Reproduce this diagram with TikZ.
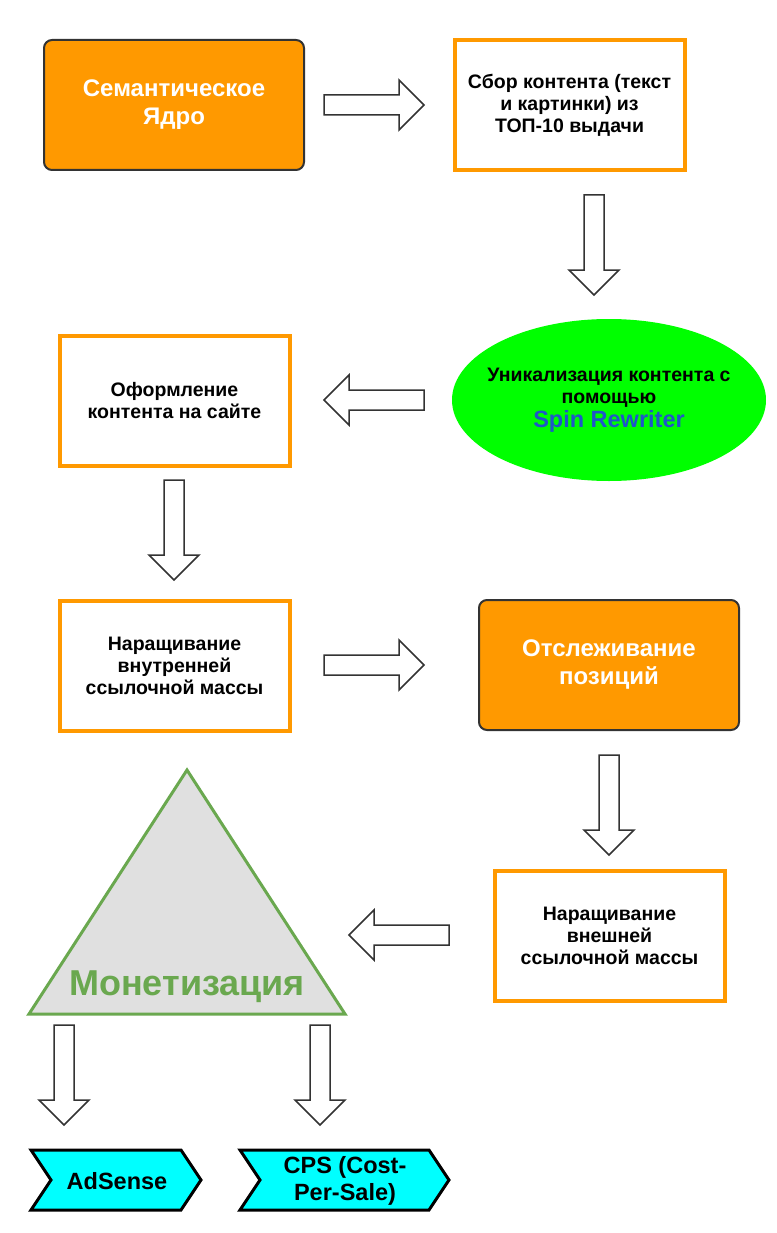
\documentclass[tikz,border=0pt]{standalone}
\usepackage{fontspec}
\setmainfont{Liberation Sans}
\usetikzlibrary{shapes.geometric}
\definecolor{orng}{HTML}{FF9900}
\definecolor{dgray}{HTML}{333333}
\definecolor{grn}{HTML}{00FF00}
\definecolor{spin}{HTML}{1F56C9}
\definecolor{tri}{HTML}{6AA84F}
\definecolor{trifill}{HTML}{E0E0E0}
\definecolor{cyanb}{HTML}{00FFFF}
\tikzset{
  filledbox/.style={draw=dgray, line width=2pt, fill=orng, rounded corners=8pt, minimum width=260pt, minimum height=130pt, text=white, font=\bfseries\fontsize{24}{28}\selectfont, align=center},
  framebox/.style={draw=orng, line width=4pt, fill=white, minimum width=230pt, minimum height=130pt, font=\bfseries\fontsize{19.5}{22}\selectfont, align=center},
  arrowshape/.style={draw=dgray, line width=1.5pt, fill=white, line join=miter},
  barrow/.pic={\draw[arrowshape] (-50,-10) -- (25,-10) -- (25,-25) -- (50,0) -- (25,25) -- (25,10) -- (-50,10) -- cycle;},
  chev/.style={draw=black, line width=3pt, fill=cyanb, line join=miter},
  chevtext/.style={font=\bfseries\fontsize{23.5}{27}\selectfont, align=center}
}
\begin{document}
\begin{tikzpicture}[x=1pt,y=-1pt]
\useasboundingbox (0,0) rectangle (776,1233);
% row 1
\node[filledbox] (sem) at (174,105) {Семантическое\\Ядро};
\pic at (374,105) {barrow};
\node[framebox] (sbor) at (569.5,105.5) {Сбор контента (текст\\и картинки) из\\ТОП-10 выдачи};
\pic[rotate=-90] at (594,245) {barrow};
% row 2
\node[ellipse, fill=grn, minimum width=314pt, minimum height=162pt, inner sep=0pt] (uni) at (609,400) {};
\node[align=center, font=\bfseries\fontsize{19.5}{22}\selectfont, inner sep=0pt] (unitext) at (uni.center) {Уникализация контента с\\помощью\\[2pt]{\color{spin}\fontsize{23.5}{24}\selectfont Spin Rewriter}};
\pic[rotate=180] at (374,400) {barrow};
\node[framebox] (oform) at (174.5,400.5) {Оформление\\контента на сайте};
\pic[rotate=-90] at (174,530) {barrow};
% row 3
\node[framebox] (vnutr) at (174.5,665.5) {Наращивание\\внутренней\\ссылочной массы};
\pic at (374,665) {barrow};
\node[filledbox] (otsl) at (609,665) {Отслеживание\\позиций};
\pic[rotate=-90] at (609,805) {barrow};
% row 4
\node[framebox] (vnesh) at (609.5,935.5) {Наращивание\\внешней\\ссылочной массы};
\pic[rotate=180] at (399,935) {barrow};
\draw[draw=tri, fill=trifill, line width=3pt, line join=miter] (187,770) -- (345,1014) -- (29,1014) -- cycle;
\node[text=tri, font=\bfseries\fontsize{36}{40}\selectfont] (monet) at (187,987) {Монетизация};
\pic[rotate=-90] at (64,1075) {barrow};
\pic[rotate=-90] at (320,1075) {barrow};
% chevrons
\draw[chev] (31,1150) -- (181,1150) -- (201,1180) -- (181,1210) -- (31,1210) -- (51,1180) -- cycle;
\node[chevtext] (ads) at (117,1181) {AdSense};
\draw[chev] (240,1150) -- (429,1150) -- (449,1180) -- (429,1210) -- (240,1210) -- (260,1180) -- cycle;
\node[chevtext] (cps) at (345,1181) {CPS (Cost-\\Per-Sale)};
\end{tikzpicture}
\end{document}
